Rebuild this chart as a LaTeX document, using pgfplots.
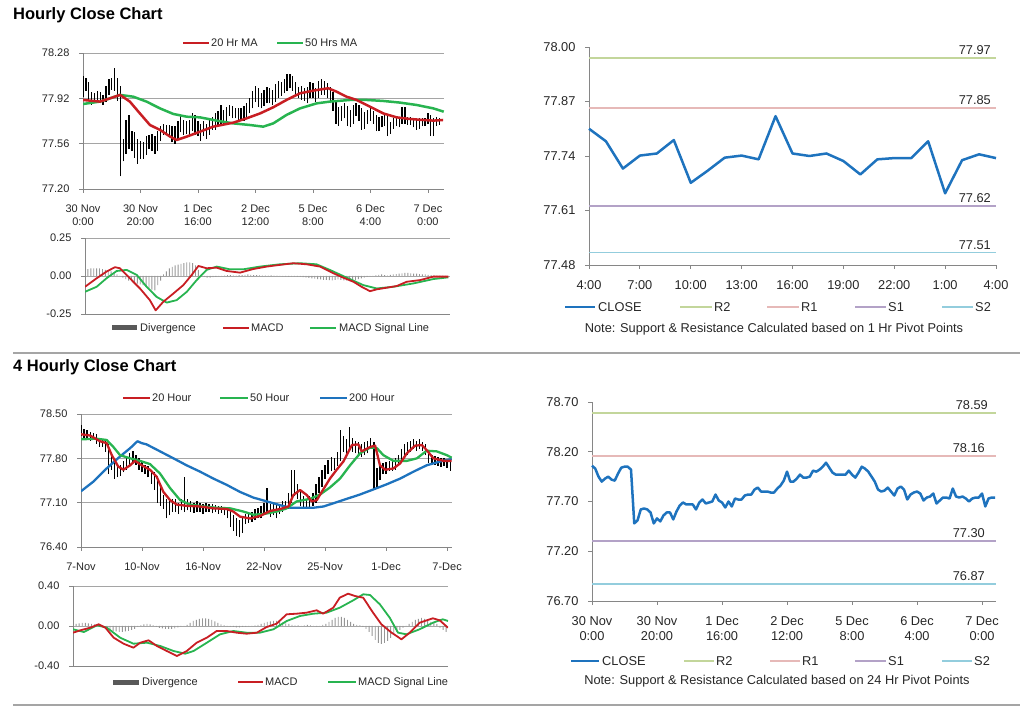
\documentclass[border=0pt]{standalone}
\usepackage{pgfplots}
\pgfplotsset{compat=1.18}
\usepackage{pgfplotstable}
\usepackage{fontspec}
\setmainfont{Liberation Sans}
\definecolor{mred}{RGB}{200,30,35}
\definecolor{mgreen}{RGB}{40,180,80}
\definecolor{mblue}{RGB}{30,115,190}
\definecolor{cRtwo}{RGB}{195,214,155}
\definecolor{cRone}{RGB}{230,185,184}
\definecolor{cSone}{RGB}{179,162,199}
\definecolor{cStwo}{RGB}{147,205,221}
\definecolor{axgray}{RGB}{134,134,134}
\definecolor{gridgray}{RGB}{165,165,165}
\definecolor{divgray}{RGB}{150,150,150}
\definecolor{divdark}{RGB}{89,89,89}
\definecolor{txt}{RGB}{38,38,38}

\pgfplotstableread{
h c lo hi
0 78.06 77.93 78.10
1 78.03 77.98 78.08
2 77.95 77.91 78.05
3 77.90 77.87 77.97
4 77.93 77.88 77.96
5 77.95 77.90 77.98
6 77.92 77.88 77.97
7 77.91 77.87 77.95
8 77.98 77.89 78.02
9 78.04 77.95 78.07
10 78.05 77.99 78.08
11 78.05 77.98 78.16
12 78.02 77.90 78.08
13 77.48 77.30 78.02
14 77.51 77.42 77.60
15 77.62 77.48 77.75
16 77.63 77.52 77.79
17 77.62 77.50 77.66
18 77.59 77.45 77.65
19 77.48 77.40 77.60
20 77.53 77.44 77.58
21 77.50 77.44 77.57
22 77.56 77.47 77.62
23 77.59 77.52 77.63
24 77.59 77.50 77.64
25 77.52 77.48 77.62
26 77.60 77.50 77.66
27 77.66 77.58 77.70
28 77.69 77.63 77.72
29 77.67 77.63 77.71
30 77.67 77.62 77.71
31 77.67 77.57 77.70
32 77.62 77.56 77.70
33 77.69 77.60 77.74
34 77.72 77.65 77.79
35 77.68 77.63 77.75
36 77.69 77.64 77.74
37 77.70 77.63 77.75
38 77.77 77.66 77.80
39 77.71 77.63 77.79
40 77.69 77.62 77.74
41 77.64 77.58 77.72
42 77.70 77.62 77.74
43 77.65 77.60 77.72
44 77.73 77.63 77.76
45 77.72 77.67 77.77
46 77.72 77.67 77.80
47 77.76 77.70 77.82
48 77.77 77.72 77.87
49 77.77 77.72 77.83
50 77.82 77.74 77.85
51 77.84 77.78 77.87
52 77.80 77.76 77.86
53 77.80 77.76 77.84
54 77.80 77.75 77.84
55 77.79 77.74 77.84
56 77.79 77.74 77.86
57 77.83 77.76 77.88
58 77.86 77.80 77.92
59 77.91 77.84 77.98
60 78.00 77.89 78.02
61 77.90 77.85 78.00
62 77.90 77.84 77.96
63 77.93 77.86 77.99
64 77.97 77.88 78.01
65 77.94 77.88 78.00
66 77.94 77.87 77.99
67 77.95 77.89 78.03
68 78.01 77.92 78.06
69 78.00 77.94 78.05
70 78.02 77.96 78.07
71 78.05 77.98 78.11
72 78.09 78.00 78.11
73 78.04 77.98 78.10
74 77.99 77.93 78.05
75 77.97 77.92 78.01
76 77.97 77.91 78.02
77 77.97 77.90 78.00
78 77.97 77.88 78.01
79 78.01 77.92 78.05
80 77.97 77.92 78.04
81 77.94 77.89 78.00
82 77.99 77.92 78.06
83 78.05 77.95 78.07
84 78.03 77.95 78.06
85 78.00 77.92 78.04
86 77.95 77.88 78.01
87 77.90 77.82 77.97
88 77.82 77.72 77.91
89 77.80 77.70 77.85
90 77.81 77.74 77.86
91 77.84 77.76 77.88
92 77.80 77.70 77.86
93 77.76 77.69 77.83
94 77.83 77.72 77.87
95 77.85 77.78 77.88
96 77.82 77.74 77.87
97 77.72 77.67 77.84
98 77.77 77.68 77.81
99 77.79 77.72 77.83
100 77.80 77.74 77.84
101 77.78 77.72 77.82
102 77.71 77.66 77.79
103 77.74 77.66 77.77
104 77.75 77.69 77.78
105 77.78 77.70 77.80
106 77.68 77.62 77.79
107 77.71 77.64 77.73
108 77.74 77.68 77.76
109 77.74 77.70 77.77
110 77.73 77.69 77.77
111 77.83 77.72 77.85
112 77.75 77.72 77.85
113 77.74 77.71 77.77
114 77.75 77.71 77.77
115 77.73 77.69 77.76
116 77.70 77.67 77.75
117 77.73 77.68 77.76
118 77.74 77.70 77.76
119 77.74 77.70 77.76
120 77.78 77.72 77.80
121 77.65 77.62 77.79
122 77.73 77.62 77.76
123 77.74 77.70 77.77
124 77.74 77.71 77.76
}\hourly

\pgfplotstableread{
b c lo hi
0 78.25 78.15 78.32
1 78.20 78.12 78.27
2 78.18 78.10 78.24
3 78.15 78.08 78.22
4 78.15 78.10 78.20
5 78.10 78.03 78.18
6 78.05 77.98 78.12
7 78.05 77.98 78.10
8 78.02 77.90 78.08
9 77.70 77.55 78.02
10 77.75 77.62 77.85
11 77.55 77.48 77.78
12 77.60 77.50 77.68
13 77.62 77.52 77.70
14 77.65 77.58 77.76
15 77.75 77.62 77.82
16 77.80 77.70 77.88
17 77.85 77.74 77.92
18 77.78 77.70 77.86
19 77.70 77.62 77.80
20 77.65 77.58 77.74
21 77.62 77.55 77.70
22 77.60 77.50 77.68
23 77.55 77.40 77.62
24 77.50 77.30 77.58
25 77.30 77.10 77.52
26 77.15 77.05 77.35
27 77.10 77.00 77.22
28 77.05 76.85 77.15
29 77.00 76.90 77.12
30 77.10 76.95 77.15
31 77.05 76.95 77.15
32 77.00 76.92 77.10
33 77.08 76.98 77.15
34 77.05 76.95 77.51
35 77.10 76.98 77.16
36 77.05 76.96 77.12
37 77.00 76.94 77.10
38 77.05 76.95 77.12
39 77.02 76.95 77.10
40 77.00 76.92 77.08
41 77.05 76.95 77.10
42 77.03 76.96 77.08
43 77.00 76.93 77.08
44 77.02 76.95 77.07
45 76.98 76.92 77.05
46 77.00 76.94 77.05
47 76.97 76.90 77.03
48 76.95 76.85 77.02
49 76.85 76.72 76.98
50 76.75 76.65 76.90
51 76.70 76.58 76.85
52 76.65 76.55 76.82
53 76.80 76.62 76.88
54 76.85 76.76 76.92
55 76.85 76.78 76.92
56 76.88 76.80 76.95
57 76.90 76.82 77.00
58 76.92 76.85 77.02
59 76.95 76.85 77.05
60 77.00 76.90 77.10
61 77.05 76.95 77.33
62 76.95 76.88 77.08
63 77.00 76.90 77.08
64 77.02 76.85 77.10
65 77.00 76.92 77.08
66 77.05 76.96 77.12
67 77.05 76.98 77.12
68 77.10 77.00 77.25
69 77.45 77.10 77.62
70 77.30 77.20 77.62
71 77.25 77.15 77.40
72 77.15 77.05 77.30
73 77.10 77.00 77.20
74 77.05 77.00 77.15
75 77.10 77.00 77.20
76 77.15 77.05 77.25
77 77.30 77.10 77.40
78 77.40 77.25 77.50
79 77.55 77.35 77.62
80 77.60 77.48 77.70
81 77.65 77.55 77.78
82 77.75 77.60 77.82
83 77.70 77.62 77.80
84 77.80 77.68 77.90
85 78.10 77.75 78.25
86 78.05 77.90 78.15
87 77.95 77.85 78.10
88 78.15 77.92 78.30
89 78.00 77.90 78.12
90 78.00 77.88 78.08
91 77.95 77.85 78.05
92 77.90 77.82 78.02
93 77.95 77.85 78.05
94 78.00 77.88 78.08
95 78.05 77.95 78.12
96 77.55 77.30 78.06
97 77.45 77.35 77.65
98 77.60 77.45 77.70
99 77.65 77.55 77.72
100 77.65 77.55 77.74
101 77.70 77.60 77.76
102 77.68 77.60 77.75
103 77.72 77.62 77.80
104 77.75 77.68 77.85
105 77.85 77.72 77.95
106 77.95 77.80 78.02
107 77.95 77.85 78.05
108 78.00 77.90 78.08
109 78.05 77.95 78.10
110 78.00 77.92 78.08
111 78.05 77.95 78.10
112 78.00 77.92 78.06
113 77.95 77.85 78.02
114 77.80 77.72 77.92
115 77.75 77.70 77.85
116 77.80 77.70 77.84
117 77.75 77.68 77.82
118 77.72 77.66 77.80
119 77.75 77.68 77.80
120 77.72 77.65 77.78
121 77.68 77.60 77.76
}\fourh

\pgfplotstableread{
h c
0 77.805
1 77.775
2 77.710
3 77.741
4 77.746
5 77.778
6 77.676
7 77.705
8 77.736
9 77.741
10 77.732
11 77.835
12 77.746
13 77.740
14 77.746
15 77.728
16 77.696
17 77.732
18 77.735
19 77.735
20 77.775
21 77.651
22 77.730
23 77.744
24 77.735
}\pivot

\pgfplotsset{
  mybase/.style={
    scale only axis, axis x line*=bottom, axis y line*=left,
    axis line style={draw=axgray, line width=0.9pt},
    every tick/.style={draw=axgray, line width=0.8pt},
    tick align=outside, major tick length=4pt,
    ticklabel style={font=\fontsize{11}{13}\selectfont, text=txt},
    yticklabel style={xshift=-6pt},
    xticklabel style={yshift=-8pt},
    grid style={draw=gridgray, line width=0.9pt},
  },
  bigfont/.style={ticklabel style={font=\fontsize{12.8}{15}\selectfont, text=txt}},
  barstyle/.style={draw=none, forget plot, error bars/.cd, y dir=plus, y explicit,
    error mark=none, error bar style={draw=black, line width=1.3pt}},
  divstyle/.style={ybar, bar shift=0pt, bar width=0.9pt, fill=divgray, draw=none},
}

\begin{document}
\begin{tikzpicture}[x=1pt,y=1pt, every node/.style={text=txt}]
\path[use as bounding box] (0,0) rectangle (1024,706);

% ---------------- Panel 1: hourly bars ----------------
\begin{axis}[mybase, at={(83pt,517pt)}, anchor=south west, width=361pt, height=136pt,
  xmin=0, xmax=125.6, ymin=77.20, ymax=78.28,
  ytick={77.20,77.56,77.92,78.28}, yticklabels={77.20,77.56,77.92,78.28},
  ymajorgrids,
  xtick={0,20,...,120},
  xticklabels={{30 Nov\\0:00},{30 Nov\\20:00},{1 Dec\\16:00},{2 Dec\\12:00},{5 Dec\\8:00},{6 Dec\\4:00},{7 Dec\\0:00}},
  xticklabel style={align=center}]
\addplot[barstyle] table[x=h, y=lo, y error expr=\thisrow{hi}-\thisrow{lo}] {\hourly};
\addplot[mgreen, line width=2.5pt, line join=round] coordinates {
(0,77.875) (5.9,77.894) (9.4,77.92) (12.9,77.947) (17.5,77.933) (22.1,77.894) (26.8,77.84)
(31.4,77.796) (36.1,77.774) (40.7,77.769) (46.5,77.743) (52.3,77.721) (58.1,77.708)
(62.7,77.695) (66.2,77.721) (70.8,77.788) (75.5,77.84) (81.3,77.88) (85.9,77.894)
(92.9,77.907) (98.7,77.907) (104.5,77.899) (110.3,77.886) (116.1,77.867) (121.9,77.84) (125.5,77.814)};
\addplot[mred, line width=2.5pt, line join=round] coordinates {
(0,77.907) (5.9,77.894) (9.4,77.92) (12.9,77.947) (16.3,77.894) (19.8,77.80) (23.3,77.708)
(26.8,77.669) (30.3,77.616) (32.6,77.589) (36.1,77.616) (40.7,77.655) (45.3,77.695)
(52.3,77.727) (56.9,77.761) (61.6,77.80) (66.2,77.849) (70.8,77.907) (75.5,77.96)
(80.1,77.981) (85.3,78.0) (88.2,77.973) (91.7,77.933) (95.2,77.907) (99.8,77.854)
(104.5,77.80) (109.1,77.769) (113.7,77.756) (118.4,77.748) (121.9,77.743) (125.3,77.748)};
\end{axis}

% ---------------- Panel 1 MACD ----------------
\begin{axis}[mybase, at={(85pt,392pt)}, anchor=south west, width=365pt, height=76pt,
  xmin=0, xmax=125.5, ymin=-0.25, ymax=0.25,
  ytick={-0.25,0,0.25}, yticklabels={-0.25,0.00,0.25}, ymajorgrids,
  xtick=\empty]
\addplot[divstyle] coordinates {
(0,0.04) (1,0.045) (2,0.05) (3,0.05) (4,0.05) (5,0.05) (6,0.045) (7,0.04) (8,0.035) (9,0.03) (10,0.02) (11,0.01)
(12,0) (13,-0.01) (14,-0.02) (15,-0.03) (16,-0.035) (17,-0.04) (18,-0.05) (19,-0.055) (20,-0.06) (21,-0.07) (22,-0.08) (23,-0.09) (24,-0.095) (25,-0.06) (26,-0.03)
(27,0.01) (28,0.03) (29,0.05) (30,0.06) (31,0.07) (32,0.075) (33,0.08) (34,0.085) (35,0.09) (36,0.09) (37,0.085) (38,0.07) (39,0.04) (40,0.01)
(41,-0.005) (42,-0.01) (43,-0.01) (44,-0.008) (45,-0.005) (46,-0.003) (47,0.0) (48,0.003) (49,0.005) (50,0.005)
(51,0.003) (52,0.002) (53,0.005) (54,0.006) (55,0.008) (56,0.01) (57,0.008) (58,0.006) (59,0.005) (60,0.004)
(61,0.003) (62,0.002) (63,0.003) (64,0.004) (65,0.003) (66,0.002) (67,0.001) (68,-0.002) (69,-0.003) (70,-0.004)
(71,-0.003) (72,-0.002) (73,-0.004) (74,-0.006) (75,-0.008) (76,-0.01) (77,-0.012) (78,-0.015) (79,-0.018) (80,-0.02)
(81,-0.022) (82,-0.025) (83,-0.025) (84,-0.027) (85,-0.028) (86,-0.025) (87,-0.022) (88,-0.025) (89,-0.028) (90,-0.03)
(91,-0.03) (92,-0.028) (93,-0.025) (94,-0.02) (95,-0.015) (96,-0.01) (97,-0.006) (98,-0.003) (99,0.0) (100,0.004)
(101,0.008) (102,0.01) (103,0.005) (104,0.003) (105,0.008) (106,0.01) (107,0.012) (108,0.015) (109,0.018) (110,0.02)
(111,0.02) (112,0.018) (113,0.015) (114,0.015) (115,0.012) (116,0.01) (117,0.01) (118,0.008) (119,0.006) (120,0.005)
(121,0.003) (122,0.002) (123,0.002) (124,0.001)};
\addplot[mgreen, line width=1.8pt, line join=round] coordinates {
(0,-0.104) (4,-0.071) (7.4,-0.015) (10.9,0.033) (14.3,0.040) (17.8,0.007) (21.2,-0.071)
(24.6,-0.137) (28.1,-0.175) (31.5,-0.159) (35,-0.104) (38.4,-0.027) (41.8,0.040) (45.3,0.062)
(49.8,0.044) (54.4,0.044) (60.2,0.062) (67,0.077) (73.9,0.084) (79.6,0.077) (84.2,0.040)
(90,-0.011) (95.7,-0.060) (100.3,-0.082) (106,-0.071) (112.9,-0.049) (119.8,-0.020) (124.9,-0.009)};
\addplot[mred, line width=1.8pt, line join=round] coordinates {
(0,-0.071) (4,-0.015) (7.4,0.029) (10.3,0.058) (12,0.051) (14.3,0.007) (16.6,-0.038) (18.9,-0.082)
(22.3,-0.159) (24.3,-0.226) (26.9,-0.170) (30.4,-0.115) (33.8,-0.060) (36.7,0.007) (39,0.066)
(41.8,0.051) (45.3,0.055) (48.7,0.033) (53.3,0.022) (57.9,0.046) (62.5,0.062) (67,0.073)
(71.6,0.084) (76.2,0.077) (80.8,0.062) (85.4,0.018) (88.8,-0.011) (92.3,-0.038) (95.1,-0.071)
(98,-0.10) (100.3,-0.088) (103.7,-0.077) (107.2,-0.066) (110.6,-0.038) (115.2,-0.027) (119.8,-0.004) (124.9,-0.004)};
\end{axis}

% ---------------- Panel 2: 1 Hr pivot ----------------
\begin{axis}[mybase, bigfont, clip=false, at={(589pt,441pt)}, anchor=south west, width=407pt, height=218pt,
  xmin=0, xmax=24, ymin=77.48, ymax=78.00,
  ytick={77.48,77.61,77.74,77.87,78.00}, yticklabels={77.48,77.61,77.74,77.87,78.00},
  xtick={0,3,...,24}, xticklabels={4:00,7:00,10:00,13:00,16:00,19:00,22:00,1:00,4:00}]
\addplot[cRtwo, line width=1.8pt] coordinates {(0,77.973) (24,77.973)};
\addplot[cRone, line width=1.8pt] coordinates {(0,77.855) (24,77.855)};
\addplot[cSone, line width=1.8pt] coordinates {(0,77.621) (24,77.621)};
\addplot[cStwo, line width=1.8pt] coordinates {(0,77.51) (24,77.51)};
\addplot[mblue, line width=2.5pt, line join=round] table[x=h, y=c] {\pivot};
\node[anchor=south east, font=\fontsize{12.8}{14}\selectfont, inner sep=1pt] at (axis cs:24,77.973) [xshift=-4pt,yshift=2pt] {77.97};
\node[anchor=south east, font=\fontsize{12.8}{14}\selectfont, inner sep=1pt] at (axis cs:24,77.855) [xshift=-4pt,yshift=2pt] {77.85};
\node[anchor=south east, font=\fontsize{12.8}{14}\selectfont, inner sep=1pt] at (axis cs:24,77.621) [xshift=-4pt,yshift=2pt] {77.62};
\node[anchor=south east, font=\fontsize{12.8}{14}\selectfont, inner sep=1pt] at (axis cs:24,77.51) [xshift=-4pt,yshift=2pt] {77.51};
\end{axis}

% ---------------- Panel 3: 4 hourly bars ----------------
\begin{axis}[mybase, at={(81pt,159pt)}, anchor=south west, width=371pt, height=133pt,
  xmin=0, xmax=121.6, ymin=76.40, ymax=78.50,
  ytick={76.40,77.10,77.80,78.50}, yticklabels={76.40,77.10,77.80,78.50},
  ymajorgrids,
  xtick={0,20,...,120}, xticklabels={7-Nov,10-Nov,16-Nov,22-Nov,25-Nov,1-Dec,7-Dec}]
\addplot[barstyle] table[x=b, y=lo, y error expr=\thisrow{hi}-\thisrow{lo}] {\fourh};
\addplot[mblue, line width=2.3pt, line join=round] coordinates {
(0,77.28) (4,77.43) (8.4,77.64) (12.8,77.83) (16.1,77.96) (18.5,78.07) (19.9,78.04) (21.5,78.02)
(25.9,77.91) (30.3,77.80) (34.6,77.69) (39,77.59) (43.4,77.48) (47.8,77.38) (52.1,77.27)
(56.5,77.18) (60.9,77.12) (65.3,77.06) (68.5,77.02) (71.8,77.02) (76.2,77.02) (79.5,77.04)
(82.7,77.09) (87.1,77.16) (91.5,77.23) (95.9,77.31) (100.2,77.39) (104.6,77.48) (109,77.59)
(113.3,77.69) (117.7,77.75) (121.5,77.79)};
\addplot[mgreen, line width=2.3pt, line join=round] coordinates {
(0,78.10) (5.1,78.11) (8.4,78.09) (10.6,77.98) (12.8,77.85) (16.1,77.80) (19.3,77.76) (22.6,77.71)
(25.9,77.56) (29.2,77.33) (32.5,77.14) (35.7,77.07) (40.1,77.04) (44.5,77.02) (48.9,77.01)
(53.2,76.96) (56.5,76.91) (59.8,76.92) (64.2,76.96) (67.4,77.01) (70.7,77.12) (75.1,77.16)
(78.4,77.23) (81.6,77.34) (84.9,77.48) (88.2,77.69) (91.5,77.88) (94.8,77.97) (97,77.96)
(99.1,77.85) (102.4,77.76) (106.8,77.76) (110.1,77.80) (113.3,77.92) (116.6,77.91) (119.9,77.85) (121.5,77.81)};
\addplot[mred, line width=2.3pt, line join=round] coordinates {
(0,78.18) (3,78.16) (6.2,78.07) (8.4,78.04) (10.1,77.85) (12.2,77.67) (13.9,77.62) (16.1,77.69)
(17.7,77.76) (19.9,77.69) (22.6,77.62) (24.8,77.51) (27,77.27) (29.2,77.14) (31.4,77.07)
(34.6,77.05) (39,77.04) (43.4,77.01) (47.8,77.00) (49.9,76.96) (52.1,76.88) (55.4,76.85)
(58.7,76.89) (62,76.97) (65.3,77.00) (68,77.04) (69.6,77.22) (71.8,77.30) (74,77.22)
(75.6,77.12) (77.3,77.14) (78.9,77.27) (81.6,77.48) (83.8,77.62) (86,77.75) (88.8,78.01)
(90.9,78.02) (92,77.91) (94.8,77.98) (96.4,78.00) (98,77.69) (99.7,77.62) (102.4,77.64)
(104.6,77.72) (106.8,77.88) (109.5,78.00) (111.7,78.01) (113.3,77.93) (115.5,77.80) (118.8,77.76) (121.5,77.76)};
\end{axis}

% ---------------- Panel 3 MACD ----------------
\begin{axis}[mybase, at={(73pt,40pt)}, anchor=south west, width=375pt, height=80pt,
  xmin=0, xmax=121.6, ymin=-0.40, ymax=0.40,
  ytick={-0.4,0,0.4}, yticklabels={-0.40,0.00,0.40}, ymajorgrids,
  xtick=\empty]
\addplot[divstyle] coordinates {
(0,0.01) (1,0.02) (2,0.025) (3,0.03) (4,0.03) (5,0.025) (6,0.02) (7,0.015) (8,0.01)
(9,-0.01) (10,-0.02) (11,-0.03) (12,-0.04) (13,-0.05) (14,-0.055) (15,-0.06) (16,-0.06) (17,-0.055) (18,-0.05) (19,-0.04) (20,-0.03)
(21,-0.01) (22,0.005) (23,0.015) (24,0.02) (25,0.015) (26,0.005)
(27,-0.01) (28,-0.02) (29,-0.025) (30,-0.03) (31,-0.03) (32,-0.03) (33,-0.025) (34,-0.015)
(35,-0.005) (36,0.0) (37,0.01)
(38,0.03) (39,0.05) (40,0.06) (41,0.07) (42,0.075) (43,0.075) (44,0.07) (45,0.06) (46,0.045) (47,0.03)
(48,0.015) (49,0.005) (50,-0.005) (51,-0.01) (52,-0.01) (53,-0.015) (54,-0.015) (55,-0.01) (56,-0.01) (57,-0.005) (58,0.0) (59,0.005) (60,0.01)
(61,0.02) (62,0.03) (63,0.04) (64,0.045) (65,0.05) (66,0.05) (67,0.045) (68,0.035) (69,0.025) (70,0.02)
(71,0.01) (72,0.005) (73,0.005) (74,0.0) (75,0.005) (76,0.01) (77,0.005) (78,0.0) (79,-0.005)
(80,0.0) (81,0.01) (82,0.02) (83,0.04) (84,0.06) (85,0.08) (86,0.09) (87,0.09) (88,0.08) (89,0.06)
(90,0.04) (91,0.02) (92,0.01) (93,0.005) (94,-0.01)
(95,-0.03) (96,-0.06) (97,-0.10) (98,-0.14) (99,-0.17) (100,-0.18) (101,-0.17) (102,-0.15) (103,-0.12) (104,-0.09) (105,-0.06) (106,-0.04)
(107,-0.02) (108,0.0) (109,0.02)
(110,0.04) (111,0.06) (112,0.07) (113,0.08) (114,0.07) (115,0.06) (116,0.04) (117,0.03) (118,0.02)
(119,-0.02) (120,-0.04) (121,-0.06)};
\addplot[mgreen, line width=1.8pt, line join=round] coordinates {
(0,-0.033) (3.5,-0.06) (7.8,0.007) (11,-0.017) (15.3,-0.117) (19.6,-0.177) (24,-0.167) (28.3,-0.20)
(32.6,-0.25) (36.4,-0.277) (39.1,-0.25) (43.4,-0.167) (47.7,-0.083) (52,-0.05) (56.3,-0.067)
(60.6,-0.067) (65,-0.033) (69.3,0.05) (73.6,0.10) (77.9,0.123) (82.2,0.133) (86.5,0.183)
(90.9,0.257) (94.1,0.317) (96.3,0.31) (99.5,0.217) (102.7,0.083) (105.4,-0.067) (108.1,-0.083)
(112.4,-0.033) (116.7,0.033) (119.9,0.067) (121.6,0.05)};
\addplot[mred, line width=1.8pt, line join=round] coordinates {
(0,-0.067) (2.4,-0.043) (5.6,-0.017) (8.3,0.017) (10.5,-0.017) (13.2,-0.117) (16.4,-0.177) (19.6,-0.217)
(21.8,-0.167) (24.5,-0.143) (27.2,-0.20) (30.4,-0.25) (33.7,-0.30) (36.9,-0.25) (40.1,-0.167)
(43.4,-0.117) (46.6,-0.05) (49.8,-0.05) (53.1,-0.067) (56.3,-0.077) (59.6,-0.067) (62.8,-0.01)
(66,0.023) (69.3,0.117) (72.5,0.123) (75.7,0.133) (79,0.157) (81.1,0.123) (84.4,0.183)
(86.5,0.283) (89.2,0.323) (91.4,0.30) (94.1,0.283) (97.3,0.133) (100,0.017) (103.3,-0.067)
(106.5,-0.133) (109.2,-0.067) (112.4,0.033) (116.7,0.077) (118.9,0.057) (121.6,-0.017)};
\end{axis}

% ---------------- Panel 4: 24 Hr pivot ----------------
\begin{axis}[mybase, bigfont, clip=false, at={(592pt,105pt)}, anchor=south west, width=404pt, height=199pt,
  xmin=0, xmax=124.3, ymin=76.70, ymax=78.70,
  ytick={76.70,77.20,77.70,78.20,78.70}, yticklabels={76.70,77.20,77.70,78.20,78.70},
  xtick={0,20,...,120},
  xticklabels={{30 Nov\\0:00},{30 Nov\\20:00},{1 Dec\\16:00},{2 Dec\\12:00},{5 Dec\\8:00},{6 Dec\\4:00},{7 Dec\\0:00}},
  xticklabel style={align=center}]
\addplot[cRtwo, line width=1.8pt] coordinates {(0,78.59) (124.3,78.59)};
\addplot[cRone, line width=1.8pt] coordinates {(0,78.16) (124.3,78.16)};
\addplot[cSone, line width=1.8pt] coordinates {(0,77.30) (124.3,77.30)};
\addplot[cStwo, line width=1.8pt] coordinates {(0,76.87) (124.3,76.87)};
\addplot[mblue, line width=2.5pt, line join=round] table[x=h, y=c] {\hourly};
\node[anchor=south east, font=\fontsize{12.8}{14}\selectfont, inner sep=1pt] at (axis cs:124.3,78.59) [xshift=-7pt,yshift=2pt] {78.59};
\node[anchor=south east, font=\fontsize{12.8}{14}\selectfont, inner sep=1pt] at (axis cs:124.3,78.16) [xshift=-10pt,yshift=2pt] {78.16};
\node[anchor=south east, font=\fontsize{12.8}{14}\selectfont, inner sep=1pt] at (axis cs:124.3,77.30) [xshift=-10pt,yshift=2pt] {77.30};
\node[anchor=south east, font=\fontsize{12.8}{14}\selectfont, inner sep=1pt] at (axis cs:124.3,76.87) [xshift=-10pt,yshift=2pt] {76.87};
\end{axis}

% ---------------- Titles, legends, separators ----------------
\begin{scope}[every node/.style={inner sep=0pt, text=txt, font=\fontsize{11}{12}\selectfont}]
\node[anchor=base west, font=\bfseries\fontsize{16.5}{18}\selectfont, text=black] at (13,686) {Hourly Close Chart};
\node[anchor=base west, font=\bfseries\fontsize{16.5}{18}\selectfont, text=black] at (13,334) {4 Hourly Close Chart};

% panel 1 legend (y=663)
\draw[mred, line width=2pt] (183,663) -- (209,663); \node[anchor=base west] at (211,659) {20 Hr MA};
\draw[mgreen, line width=2pt] (277,663) -- (303,663); \node[anchor=base west] at (305,659) {50 Hrs MA};

% panel 1 MACD legend (y=378)
\fill[divdark] (112,375.5) rectangle (137,380.5); \node[anchor=base west] at (140,374) {Divergence};
\draw[mred, line width=1.5pt] (223,378) -- (249,378); \node[anchor=base west] at (251,374) {MACD};
\draw[mgreen, line width=1.5pt] (310,378) -- (336,378); \node[anchor=base west] at (339,374) {MACD Signal Line};

% panel 2 legend (y=399)
\begin{scope}[every node/.style={inner sep=0pt, text=txt, font=\fontsize{12.8}{14}\selectfont}]
\draw[mblue, line width=2pt] (565,399) -- (595,399); \node[anchor=base west] at (598,394.5) {CLOSE};
\draw[cRtwo, line width=1.5pt] (680,399) -- (712,399); \node[anchor=base west] at (714,394.5) {R2};
\draw[cRone, line width=1.5pt] (767,399) -- (799,399); \node[anchor=base west] at (801,394.5) {R1};
\draw[cSone, line width=1.5pt] (855,399) -- (886,399); \node[anchor=base west] at (888,394.5) {S1};
\draw[cStwo, line width=1.5pt] (942,399) -- (973,399); \node[anchor=base west] at (975,394.5) {S2};
\node[anchor=base] at (774,373.5) {Note: Support \& Resistance Calculated based on 1 Hr Pivot Points};

% panel 4 legend (y=45)
\draw[mblue, line width=2pt] (571,45) -- (599,45); \node[anchor=base west] at (602,40.5) {CLOSE};
\draw[cRtwo, line width=1.5pt] (684,45) -- (714,45); \node[anchor=base west] at (716,40.5) {R2};
\draw[cRone, line width=1.5pt] (770,45) -- (800,45); \node[anchor=base west] at (802,40.5) {R1};
\draw[cSone, line width=1.5pt] (855,45) -- (886,45); \node[anchor=base west] at (888,40.5) {S1};
\draw[cStwo, line width=1.5pt] (942,45) -- (972,45); \node[anchor=base west] at (974,40.5) {S2};
\node[anchor=base] at (777,21.5) {Note: Support \& Resistance Calculated based on 24 Hr Pivot Points};
\end{scope}

% panel 3 legend (y=308)
\draw[mred, line width=2pt] (123,308) -- (150,308); \node[anchor=base west] at (152,304) {20 Hour};
\draw[mgreen, line width=2pt] (220,308) -- (248,308); \node[anchor=base west] at (250,304) {50 Hour};
\draw[mblue, line width=2pt] (320,308) -- (347,308); \node[anchor=base west] at (349,304) {200 Hour};

% panel 3 MACD legend (y=24)
\fill[divdark] (113,21.5) rectangle (139,26.5); \node[anchor=base west] at (142,20) {Divergence};
\draw[mred, line width=1.5pt] (238,24) -- (263,24); \node[anchor=base west] at (265,20) {MACD};
\draw[mgreen, line width=1.5pt] (328,24) -- (356,24); \node[anchor=base west] at (358,20) {MACD Signal Line};

% separators
\draw[draw=gridgray, line width=1.6pt] (13,353) -- (1020,353);
\draw[draw=gridgray, line width=1.6pt] (13,1) -- (1020,1);
\end{scope}
\end{tikzpicture}
\end{document}
